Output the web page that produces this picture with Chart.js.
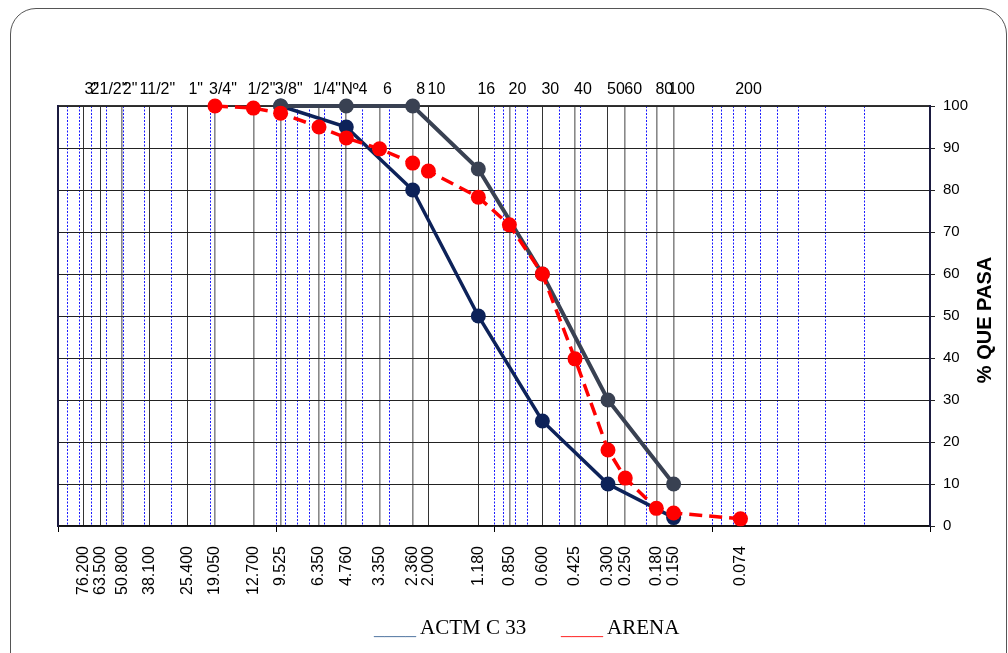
<!DOCTYPE html>
<html>
<head>
<meta charset="utf-8">
<script src="https://cdn.jsdelivr.net/npm/chart.js@4/dist/chart.umd.min.js"></script>
<style>
  body { margin: 0; background: #fff; }
  #wrap { position: relative; width: 1008px; height: 653px; overflow: hidden; }
  #frame { position: absolute; left: 10px; top: 8px; width: 995px; height: 670px;
           border: 1.5px solid #555; border-radius: 26px; pointer-events: none; }
  #legend { position: absolute; top: 615px; left: 0; width: 1008px;
            font-family: "Liberation Serif", "Times New Roman", serif; font-size: 21px; color: #000; }
  #legend span.item { position: absolute; white-space: pre; }
</style>
</head>
<body>
<div id="wrap">
  <canvas id="canvas" width="1008" height="653"></canvas>
  <div id="frame"></div>
  <div id="legend">
    <span class="item" style="left:374px"><span style="color:#5b7ea6">____</span> ACTM C 33</span>
    <span class="item" style="left:561px"><span style="color:#ff3030">____</span> ARENA</span>
  </div>
</div>
<script>
// sieve openings (mm) and their names
const sieveMm = [76.2, 63.5, 50.8, 38.1, 25.4, 19.05, 12.7, 9.525, 6.35, 4.76, 3.35, 2.36, 2.0,
                 1.18, 0.85, 0.6, 0.425, 0.3, 0.25, 0.18, 0.15, 0.074];
const sieveNames = ['3"', '21/2"', '2"', '11/2"', '1"', '3/4"', '1/2"', '3/8"', '1/4"', 'Nº4', '6', '8', '10',
                    '16', '20', '30', '40', '50', '60', '80', '100', '200'];

// ASTM C33 limits
const c33Mm = [9.525, 4.76, 2.36, 1.18, 0.6, 0.3, 0.15];
const c33Upper = [100, 100, 100, 85, 60, 30, 10];
const c33Lower = [100, 95, 80, 50, 25, 10, 2];

// sample "ARENA"
const arenaMm = [19.05, 12.7, 9.525, 6.35, 4.76, 3.35, 2.36, 2.0, 1.18, 0.85, 0.6, 0.425, 0.3, 0.25, 0.18, 0.15, 0.074];
const arenaPasa = [100, 99.5, 98.3, 95, 92.4, 89.8, 86.4, 84.5, 78.3, 71.7, 60, 39.8, 18.1, 11.4, 4.2, 3.1, 1.7];

const yTicks = [0, 10, 20, 30, 40, 50, 60, 70, 80, 90, 100];

// look of the solid sieve lines
const darkSieves = [76.2, 63.5, 38.1, 25.4, 2.0, 1.18, 0.6, 0.3];
const noLineSieves = [0.074];

// log minor grid 1..9 x 10^n
const minorTicks = [];
for (let e = -2; e <= 1; e++) {
  for (let m = 1; m <= 9; m++) minorTicks.push(m * Math.pow(10, e));
}
minorTicks.push(100);
const isDecade = v => Math.abs(Math.log10(v) - Math.round(Math.log10(v))) < 1e-9;

const pts = (xs, ys) => xs.map((x, i) => ({x: x, y: ys[i]}));
const FONT = "'Liberation Sans', Arial, sans-serif";

const logX = {type: 'logarithmic', reverse: true, min: 0.01, max: 100};

const titlePlugin = {
  id: 'sideTitle',
  afterDraw(chart) {
    const ctx = chart.ctx;
    ctx.save();
    ctx.translate(985, 320);
    ctx.rotate(-Math.PI / 2);
    ctx.font = 'bold 20px ' + FONT;
    ctx.fillStyle = '#000';
    ctx.textAlign = 'center';
    ctx.textBaseline = 'middle';
    ctx.fillText('% QUE PASA', 0, 0);
    ctx.restore();
  }
};

const ctx = document.getElementById('canvas').getContext('2d');
new Chart(ctx, {
  type: 'line',
  data: {
    datasets: [
      {
        label: 'ARENA',
        data: pts(arenaMm, arenaPasa),
        borderColor: '#ff0000', backgroundColor: '#ff0000',
        borderWidth: 3.5, borderDash: [13, 7],
        pointRadius: 7.5, pointBorderWidth: 0,
        order: 0, clip: false
      },
      {
        label: 'ACTM C 33',
        data: pts(c33Mm, c33Upper),
        borderColor: '#394152', backgroundColor: '#394152',
        borderWidth: 4, pointRadius: 7.5, pointBorderWidth: 0,
        order: 1, clip: false
      },
      {
        label: 'ACTM C 33 inf',
        data: pts(c33Mm, c33Lower),
        borderColor: '#0d2259', backgroundColor: '#0d2259',
        borderWidth: 3.5, pointRadius: 7.5, pointBorderWidth: 0,
        order: 2, clip: false
      }
    ]
  },
  options: {
    responsive: false,
    animation: false,
    devicePixelRatio: 1,
    layout: {padding: {left: 58, right: 0, top: 0, bottom: 0}},
    plugins: {legend: {display: false}, tooltip: {enabled: false}},
    scales: {
      x: {
        ...logX, position: 'bottom', weight: 0,
        afterBuildTicks: s => { s.ticks = minorTicks.map(v => ({value: v})); },
        ticks: {display: false},
        grid: {
          color: '#1a1aff', lineWidth: 1, tickLength: 6, tickWidth: 1,
          tickColor: c => (c.tick && isDecade(c.tick.value)) ? '#000' : 'rgba(0,0,0,0)'
        },
        border: {display: false, dash: [2, 1.5]},
        afterFit: s => { s.height = 0; }
      },
      xs: {
        ...logX, position: 'bottom', weight: 1,
        afterBuildTicks: s => { s.ticks = sieveMm.map(v => ({value: v})); },
        ticks: {
          autoSkip: false, minRotation: 90, maxRotation: 90, padding: 20,
          color: '#000', font: {family: FONT, size: 16},
          callback: (v, i) => sieveMm[i].toFixed(3)
        },
        grid: {
          drawTicks: false,
          color: c => {
            const v = c.tick ? c.tick.value : 0;
            if (noLineSieves.includes(v)) return 'rgba(0,0,0,0)';
            return darkSieves.includes(v) ? '#333' : '#888';
          },
          lineWidth: c => (c.tick && darkSieves.includes(c.tick.value)) ? 1 : 1.6
        },
        border: {display: true, color: '#111', width: 1.5},
        afterFit: s => { s.height = 127; }
      },
      xt: {
        ...logX, position: 'top',
        afterBuildTicks: s => { s.ticks = sieveMm.map(v => ({value: v})); },
        ticks: {
          autoSkip: false, minRotation: 0, maxRotation: 0, padding: -1, labelOffset: 8,
          color: '#000', font: {family: FONT, size: 16},
          callback: (v, i) => sieveNames[i]
        },
        grid: {display: false},
        border: {display: true, color: '#333', width: 1.5},
        afterFit: s => { s.height = 106; }
      },
      y: {
        type: 'linear', position: 'right', min: 0, max: 100,
        afterBuildTicks: s => { s.ticks = yTicks.map(v => ({value: v})); },
        ticks: {color: '#000', padding: 8, font: {family: FONT, size: 15}},
        grid: {color: '#222', lineWidth: 1, tickLength: 5},
        border: {display: true, color: '#1b1b40', width: 2},
        afterFit: s => { s.width = 78; }
      },
      yl: {
        type: 'linear', position: 'left', min: 0, max: 100,
        ticks: {display: false},
        grid: {display: false},
        border: {display: true, color: '#1b1b40', width: 2},
        afterFit: s => { s.width = 0; }
      }
    }
  },
  plugins: [titlePlugin]
});
</script>
</body>
</html>
